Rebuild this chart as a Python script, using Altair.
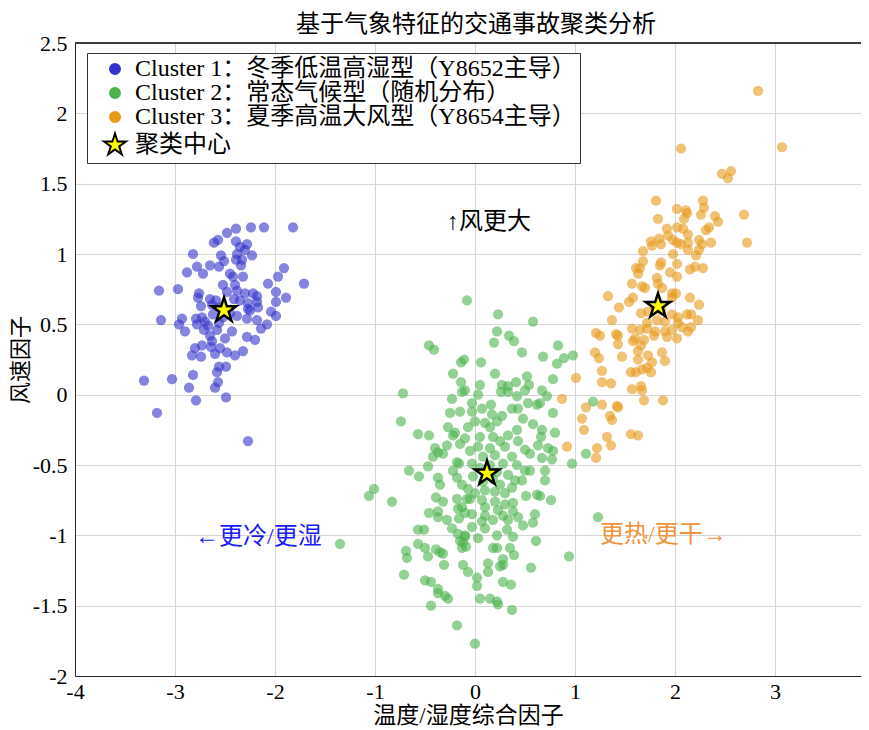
import altair as alt
import pandas as pd

FONT = "'Liberation Serif', 'Noto Sans CJK SC', serif"

title_text = "基于气象特征的交通事故聚类分析"
x_title = "温度/湿度综合因子"
y_title = "风速因子"

labels = [
    "Cluster 1：冬季低温高湿型（Y8652主导）",
    "Cluster 2：常态气候型（随机分布）",
    "Cluster 3：夏季高温大风型（Y8654主导）",
    "聚类中心",
]
fill_colors = ["#3333CC", "#4DB34D", "#E69A1A", "#FFFF00"]
stroke_colors = ["#3333CC", "#4DB34D", "#E69A1A", "#000000"]
STAR = "M0,-2.3L0.517,-0.712L2.187,-0.711L0.837,0.272L1.352,1.861L0,0.88L-1.352,1.861L-0.837,0.272L-2.187,-0.711L-0.517,-0.712Z"
shapes = ["circle", "circle", "circle", STAR]

x_domain = [-4, 3.86]
y_domain = [-2, 2.5]
x_ticks = [-4, -3, -2, -1, 0, 1, 2, 3]
y_ticks = [-2, -1.5, -1, -0.5, 0, 0.5, 1, 1.5, 2, 2.5]

cluster1 = [(-2.24,1.19),(-2.11,1.19),(-1.82,1.19),(-2.39,1.18),(-2.48,1.15),(-2.57,1.10),(-2.61,1.08),(-2.39,1.09),(-2.28,1.07),(-2.35,1.05),(-2.30,1.03),(-2.82,1.00),(-2.54,0.99),(-2.38,1.00),(-2.23,0.99),(-2.33,0.96),(-2.51,0.95),(-2.39,0.96),(-2.78,0.91),(-2.65,0.92),(-2.56,0.91),(-2.34,0.92),(-1.91,0.90),(-2.88,0.87),(-2.72,0.86),(-2.45,0.86),(-2.32,0.84),(-1.97,0.84),(-2.42,0.84),(-2.07,0.79),(-1.71,0.79),(-2.52,0.78),(-2.40,0.78),(-3.16,0.74),(-2.97,0.75),(-2.48,0.73),(-2.38,0.74),(-2.30,0.72),(-1.99,0.73),(-2.76,0.72),(-2.22,0.72),(-2.18,0.70),(-2.77,0.69),(-2.65,0.68),(-2.59,0.67),(-2.41,0.68),(-2.35,0.67),(-1.89,0.69),(-1.99,0.66),(-2.27,0.65),(-2.18,0.66),(-2.74,0.63),(-2.63,0.64),(-2.27,0.61),(-2.17,0.62),(-2.04,0.59),(-1.99,0.56),(-2.25,0.60),(-2.73,0.55),(-2.62,0.57),(-2.38,0.56),(-3.14,0.53),(-2.93,0.54),(-2.79,0.54),(-2.70,0.52),(-2.28,0.54),(-2.96,0.50),(-2.78,0.50),(-2.67,0.49),(-2.56,0.51),(-2.18,0.53),(-2.08,0.50),(-2.90,0.45),(-2.71,0.46),(-2.58,0.46),(-2.43,0.45),(-2.14,0.47),(-2.65,0.42),(-2.50,0.40),(-2.28,0.41),(-2.20,0.39),(-2.63,0.38),(-2.80,0.33),(-2.73,0.35),(-2.64,0.34),(-2.55,0.33),(-2.83,0.28),(-2.74,0.27),(-2.60,0.29),(-2.48,0.30),(-2.40,0.28),(-2.32,0.31),(-2.56,0.20),(-2.49,0.20),(-2.58,0.16),(-2.82,0.14),(-3.31,0.10),(-3.03,0.11),(-2.57,0.09),(-2.86,0.05),(-2.60,0.05),(-2.49,-0.02),(-2.79,-0.04),(-3.18,-0.13),(-2.27,-0.33),(-2.55,0.62),(-2.45,0.58),(-2.52,0.55)]

cluster2 = [(-0.08,0.67),(-0.46,0.35),(-0.41,0.32),(-0.14,0.23),(-0.11,0.25),(-0.22,0.15),(-0.14,0.09),(-0.13,0.02),(-0.72,0.01),(-0.23,-0.03),(-0.25,-0.13),(-0.15,-0.12),(-0.74,-0.19),(-0.27,-0.23),(-0.20,-0.27),(-0.22,-0.29),(-0.57,-0.28),(-0.46,-0.29),(-0.15,-0.35),(-0.40,-0.38),(-0.28,-0.36),(-0.32,-0.42),(-0.37,-0.41),(-0.42,-0.44),(-0.18,-0.48),(-0.16,-0.49),(-0.47,-0.51),(-0.66,-0.54),
(0.23,0.57),(0.58,0.52),(0.22,0.45),(0.34,0.42),(0.39,0.38),(0.19,0.37),(0.47,0.30),(0.83,0.35),(0.68,0.27),(0.82,0.22),(0.89,0.26),(0.98,0.28),(0.06,0.23),(0.20,0.15),(0.52,0.13),(0.78,0.11),(0.05,0.07),(0.27,0.07),(0.33,0.06),(0.41,0.09),(0.54,0.07),(0.26,0.02),(0.33,0.02),(0.42,-0.01),(0.50,0.03),(0.67,0.03),(0.72,-0.01),(0.03,0.00),(-0.10,0.03),(0.53,-0.06),(0.62,-0.07),(0.65,-0.06),(-0.03,-0.06),(0.07,-0.10),(0.16,-0.07),(0.37,-0.10),(0.43,-0.10),(0.78,-0.13),(-0.03,-0.12),(0.17,-0.14),(0.27,-0.15),(0.48,-0.17),(0.00,-0.19),(0.10,-0.20),(0.22,-0.19),(0.58,-0.21),(-0.07,-0.23),(0.15,-0.23),(0.42,-0.25),(0.67,-0.25),(0.80,-0.27),(0.33,-0.29),(0.05,-0.30),(0.18,-0.30),(0.66,-0.30),(-0.10,-0.31),(0.25,-0.33),(0.43,-0.33),(0.63,-0.36),(0.03,-0.37),(0.15,-0.38),(0.30,-0.37),(0.50,-0.39),(0.73,-0.38),(0.78,-0.40),(0.55,-0.42),(-0.05,-0.40),(0.08,-0.44),(0.20,-0.43),(0.37,-0.44),(0.67,-0.45),(0.97,-0.49),(1.11,-0.42),(1.18,-0.05),(-0.03,-0.49),(0.28,-0.49),(0.42,-0.50),(0.77,-0.46),
(-0.56,-0.58),(-1.01,-0.67),(-1.06,-0.72),(-0.83,-0.76),(-0.37,-0.59),(-0.35,-0.64),(-0.22,-0.54),(-0.18,-0.59),(-0.13,-0.64),(-0.39,-0.73),(-0.32,-0.76),(-0.18,-0.74),(-0.17,-0.81),(-0.13,-0.80),(-0.08,-0.74),(-0.46,-0.84),(-0.37,-0.83),(-0.37,-0.87),(-0.28,-0.89),(-0.23,-0.95),(-0.16,-0.88),(-0.10,-0.84),(-0.57,-0.96),(-0.51,-0.96),(-1.35,-1.06),(-0.57,-1.06),(-0.50,-1.09),(-0.69,-1.11),(-0.68,-1.16),(-0.47,-1.15),(-0.39,-1.10),(-0.35,-1.12),(-0.32,-1.13),(-0.31,-1.21),(-0.15,-1.04),(-0.12,-1.05),(-0.13,-1.09),(-0.12,-1.21),(-0.07,-1.26),(-0.71,-1.28),(-0.50,-1.32),(-0.44,-1.33),(-0.37,-1.38),(-0.37,-1.41),(-0.30,-1.43),(-0.27,-1.45),(-0.44,-1.50),(-0.18,-1.64),(-0.17,-0.99),(-0.10,-1.01),
(0.50,-0.54),(0.55,-0.54),(0.70,-0.54),(0.70,-0.61),(0.33,-0.57),(0.40,-0.61),(0.47,-0.61),(0.25,-0.64),(0.37,-0.66),(0.30,-0.70),(0.20,-0.69),(0.10,-0.68),(0.00,-0.70),(-0.07,-0.67),(-0.05,-0.74),(0.51,-0.72),(0.62,-0.71),(0.65,-0.72),(0.76,-0.75),(0.07,-0.75),(0.20,-0.76),(0.30,-0.78),(0.38,-0.77),(0.10,-0.80),(0.23,-0.82),(0.38,-0.83),(0.60,-0.85),(-0.03,-0.85),(0.10,-0.86),(0.28,-0.86),(0.43,-0.87),(1.23,-0.87),(0.07,-0.90),(0.18,-0.89),(0.33,-0.89),(0.58,-0.91),(0.48,-0.93),(-0.03,-0.94),(0.10,-0.95),(0.32,-0.96),(0.22,-1.00),(0.38,-1.01),(-0.10,-1.00),(0.03,-1.02),(0.61,-1.04),(0.18,-1.09),(0.22,-1.09),(0.35,-1.09),(-0.09,-1.08),(0.39,-1.14),(0.94,-1.15),(0.28,-1.17),(0.13,-1.20),(0.25,-1.22),(0.28,-1.21),(0.56,-1.23),(0.13,-1.26),(0.02,-1.30),(0.02,-1.36),(0.28,-1.33),(0.36,-1.35),(0.05,-1.45),(0.15,-1.45),(0.22,-1.47),(0.23,-1.49),(0.37,-1.53),(0.00,-1.77),
(0.12,-0.56),(0.05,-0.52),(0.18,-0.60),(0.08,-0.62),(0.15,-0.50),(-0.02,-0.58),(0.22,-0.55)]

cluster3 = [(2.83,2.16),(3.07,1.76),(2.06,1.75),(2.47,1.57),(2.56,1.59),(2.53,1.54),(1.81,1.38),(2.28,1.38),(2.02,1.32),(2.11,1.31),(2.29,1.33),(2.12,1.29),(1.83,1.25),(2.26,1.28),(2.09,1.25),(2.40,1.27),(2.43,1.23),(2.69,1.28),(1.92,1.18),(2.02,1.19),(2.08,1.18),(2.34,1.19),(2.31,1.17),(2.13,1.14),(1.93,1.13),(1.84,1.11),(1.76,1.09),(1.98,1.10),(2.02,1.08),(1.86,1.07),(1.77,1.06),(2.13,1.08),(2.24,1.10),(2.27,1.07),(2.36,1.08),(2.06,1.07),(2.72,1.08),(1.68,1.02),(2.13,1.03),(2.24,1.03),(1.98,1.00),(2.21,0.99),(1.68,0.95),(1.86,0.94),(1.85,0.92),(2.02,0.93),(1.61,0.90),(1.65,0.90),(2.15,0.89),(2.20,0.91),(2.28,0.90),(1.95,0.87),(1.63,0.86),(1.82,0.83),(2.02,0.84),
(1.57,0.79),(1.67,0.77),(1.70,0.76),(1.83,0.79),(1.87,0.76),(1.33,0.70),(1.58,0.69),(1.54,0.66),(1.97,0.72),(2.01,0.72),(1.97,0.69),(2.15,0.69),(1.44,0.62),(2.24,0.64),(1.66,0.58),(1.73,0.59),(1.97,0.57),(2.03,0.55),(2.12,0.57),(2.16,0.57),(2.23,0.53),(1.37,0.53),(1.72,0.51),(1.82,0.53),(1.90,0.52),(2.03,0.51),(2.07,0.48),(2.16,0.48),(2.13,0.45),(1.57,0.47),(1.65,0.46),(1.72,0.47),(1.80,0.45),(1.90,0.45),(1.97,0.46),(1.21,0.44),(1.25,0.42),(1.41,0.43),(1.43,0.42),(1.60,0.40),(1.69,0.39),(1.79,0.42),(1.92,0.41),(2.02,0.40),(1.58,0.38),(1.66,0.35),(1.43,0.36),(1.20,0.30),(1.24,0.26),(1.47,0.27),(1.63,0.31),(1.73,0.28),(1.87,0.30),(1.63,0.25),(1.77,0.23),(1.90,0.24),(1.67,0.18),(1.72,0.19),(1.76,0.16),(1.27,0.17),(1.56,0.16),(1.61,0.16),(1.01,0.12),(1.27,0.09),(1.36,0.08),(1.57,0.04),(1.66,0.06),(1.67,0.03),(1.69,-0.04),(1.88,-0.04),(1.11,-0.09),(1.27,-0.07),(1.42,-0.08),(1.43,-0.09),(1.35,-0.15),(1.37,-0.18),(1.07,-0.17),(1.09,-0.25),(1.56,-0.28),(1.63,-0.29),(1.32,-0.30),(1.36,-0.36),(1.22,-0.38),(1.21,-0.45),(0.92,-0.37),(0.87,-0.03),(1.80,0.62),(1.86,0.60)]

centers = [(-2.51, 0.60), (0.12, -0.56), (1.83, 0.63)]

ann_text = ["↑风更大", "←更冷/更湿", "更热/更干→"]
ann_x = [-0.28, -2.80, 1.25]
ann_y = [1.23, -1.01, -1.00]
ann_color = ["#000000", "#1A1AFF", "#F0923A"]

rows = []
for lab, pts in zip(labels[:3], [cluster1, cluster2, cluster3]):
    for px, py in pts:
        rows.append({"x": px, "y": py, "label": lab})
df = pd.DataFrame(rows)
cdf = pd.DataFrame({"x": [c[0] for c in centers], "y": [c[1] for c in centers],
                    "label": [labels[3]] * len(centers)})
ann_df = pd.DataFrame({"x": ann_x, "y": ann_y, "t": ann_text, "c": ann_color})

xscale = alt.Scale(domain=x_domain, nice=False, zero=False)
yscale = alt.Scale(domain=y_domain, nice=False, zero=False)

leg = alt.Legend(
    title=None, orient="none", legendX=12, legendY=10,
    fillColor="white", strokeColor="#333333", padding=4,
    labelFont=FONT, labelFontSize=24, labelColor="#000000", labelLimit=0,
    labelOffset=8, rowPadding=0, symbolOffset=12, symbolSize=100,
    symbolStrokeWidth=2, labelExpr="datum.label + '\u2002'",
)

x_bottom = alt.X("x:Q", scale=xscale,
                 axis=alt.Axis(title=x_title, values=x_ticks, labelExpr="datum.value + ''",
                               labelFont=FONT, labelFontSize=22, labelPadding=5, labelFlush=False,
                               titleFont=FONT, titleFontSize=23, titlePadding=2))
y_left = alt.Y("y:Q", scale=yscale,
               axis=alt.Axis(title=y_title, values=y_ticks, labelExpr="datum.value + ''",
                             labelFont=FONT, labelFontSize=22, labelPadding=8, labelFlush=False,
                             titleFont=FONT, titleFontSize=22, titlePadding=0))

enc = dict(
    x=x_bottom,
    y=y_left,
    fill=alt.Fill("label:N", scale=alt.Scale(domain=labels, range=fill_colors), legend=leg),
    stroke=alt.Stroke("label:N", scale=alt.Scale(domain=labels, range=stroke_colors), legend=leg),
    shape=alt.Shape("label:N", scale=alt.Scale(domain=labels, range=shapes), legend=leg),
)

# top frame line of the axes box, at the top of the y domain
top_frame = alt.Chart(ann_df).mark_rule(color="#262626", strokeWidth=1).encode(
    y=alt.datum(y_domain[1], scale=yscale)
)

points = alt.Chart(df).mark_point(filled=True, size=105, fillOpacity=0.6, strokeWidth=0).encode(**enc)
stars = alt.Chart(cdf).mark_point(filled=True, size=125, fillOpacity=1, strokeWidth=2.5).encode(**enc)

texts = alt.Chart(ann_df).mark_text(
    align="left", baseline="middle", font=FONT, fontSize=24
).encode(
    x=alt.X("x:Q", scale=xscale),
    y=alt.Y("y:Q", scale=yscale),
    text="t:N",
    color=alt.Color("c:N", scale=None),
)

chart = alt.layer(points, stars, texts, top_frame).properties(
    width=786, height=633,
    background="white",
    title=alt.TitleParams(title_text, font=FONT, fontSize=24, fontWeight="normal",
                          color="#000000", offset=-5, anchor="middle", dx=8),
    autosize=alt.AutoSizeParams(type="none"),
    padding={"left": 67, "top": 35, "right": 0, "bottom": 60},
).configure_axis(
    labelColor="#000000", titleFontWeight="normal", titleColor="#000000",
    grid=True, gridColor="#D6D6D6", gridWidth=1,
    domainColor="#262626", ticks=False,
).configure_view(
    strokeWidth=0
)

chart.save("out.html", embed_options={"renderer": "svg", "actions": False})
